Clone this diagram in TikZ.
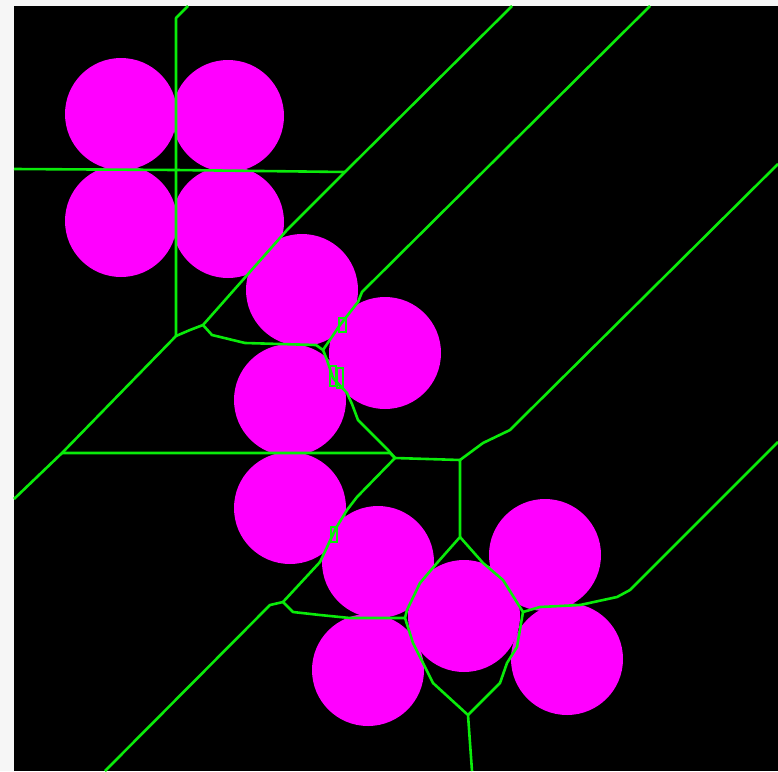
\documentclass[tikz,border=0pt]{standalone}
\usepackage{tikz}
\usetikzlibrary{positioning}

\definecolor{cellgreen}{RGB}{10,235,10}
\definecolor{diskpink}{RGB}{255,0,255}
\definecolor{marginGrey}{RGB}{246,246,246}

\begin{document}
\begin{tikzpicture}[x=1pt, y=-1pt,
    disk/.style={fill=diskpink},
    edge/.style={draw=cellgreen, line width=2.6pt, line join=round},
    flaw/.style={draw=cellgreen, line width=1.6pt}]

    % Frame
    \fill[marginGrey] (0,0) rectangle (778,771);
    \fill[black] (14,6) rectangle (778,771);
    \useasboundingbox (0,0) rectangle (778,771);

    % Disks
    \foreach \px/\py in {121/114, 228/116, 121/221, 228/222, 302/290, 385/353,
                         290/400, 290/508, 378/562, 545/555, 464/616, 368/670, 567/659}
        \fill[disk] (\px,\py) circle (56);

    % Junctions
    \coordinate (jA) at (203,325);
    \coordinate (jB) at (176,336);
    \coordinate (jC) at (62,453);
    \coordinate (jD) at (323,350);
    \coordinate (jE) at (395,458);
    \coordinate (jF) at (460,460);
    \coordinate (jG) at (283,602);
    \coordinate (jH) at (405,618);
    \coordinate (jI) at (460,537);
    \coordinate (jJ) at (523,612);
    \coordinate (jK) at (468,715);
    \coordinate (jL) at (345,172);

    % Cell edges (upper left)
    \draw[edge] (188,6) -- (176,18) -- (jB);
    \draw[edge] (14,169) -- (176,170) -- (jL);
    \draw[edge] (512,6) -- (jL) -- (287,230) -- (jA) -- (190,330) -- (jB) -- (jC) -- (14,499);
    \draw[edge] (jA) -- (212,335) -- (245,343) -- (316,345) -- (jD);
    \draw[edge] (650,6) -- (362,292) -- (358,302) -- (340,325) -- (jD);
    \draw[edge] (jD) -- (327,360) -- (333,378) -- (347,393) -- (352,404) -- (358,420)
        -- (388,450) -- (jE);
    \draw[edge] (jC) -- (390,453) -- (jE) -- (jF);

    % Cell edges (lower part)
    \draw[edge] (jE) -- (357,497) -- (347,510) -- (336,528) -- (320,562) -- (jG);
    \draw[edge] (jG) -- (270,605) -- (105,771);
    \draw[edge] (jG) -- (293,612) -- (320,615) -- (350,618) -- (jH);
    \draw[edge] (jF) -- (jI) -- (437,563) -- (420,583) -- (407,610) -- (jH);
    \draw[edge] (jI) -- (483,563) -- (503,580) -- (jJ);
    \draw[edge] (jH) -- (413,643) -- (433,683) -- (jK) -- (472,771);
    \draw[edge] (jJ) -- (517,647) -- (507,663) -- (500,683) -- (jK);
    \draw[edge] (jJ) -- (540,607) -- (580,605) -- (617,597) -- (630,590) -- (778,442);
    \draw[edge] (jF) -- (483,443) -- (510,430) -- (523,417) -- (778,164);

    % Small defects
    \draw[flaw] (339,318) rectangle (346,332);
    \draw[flaw] (330,366) rectangle (336,386);
    \draw[flaw] (337,368) rectangle (343,388);
    \draw[flaw] (331,527) rectangle (337,542);

\end{tikzpicture}
\end{document}
